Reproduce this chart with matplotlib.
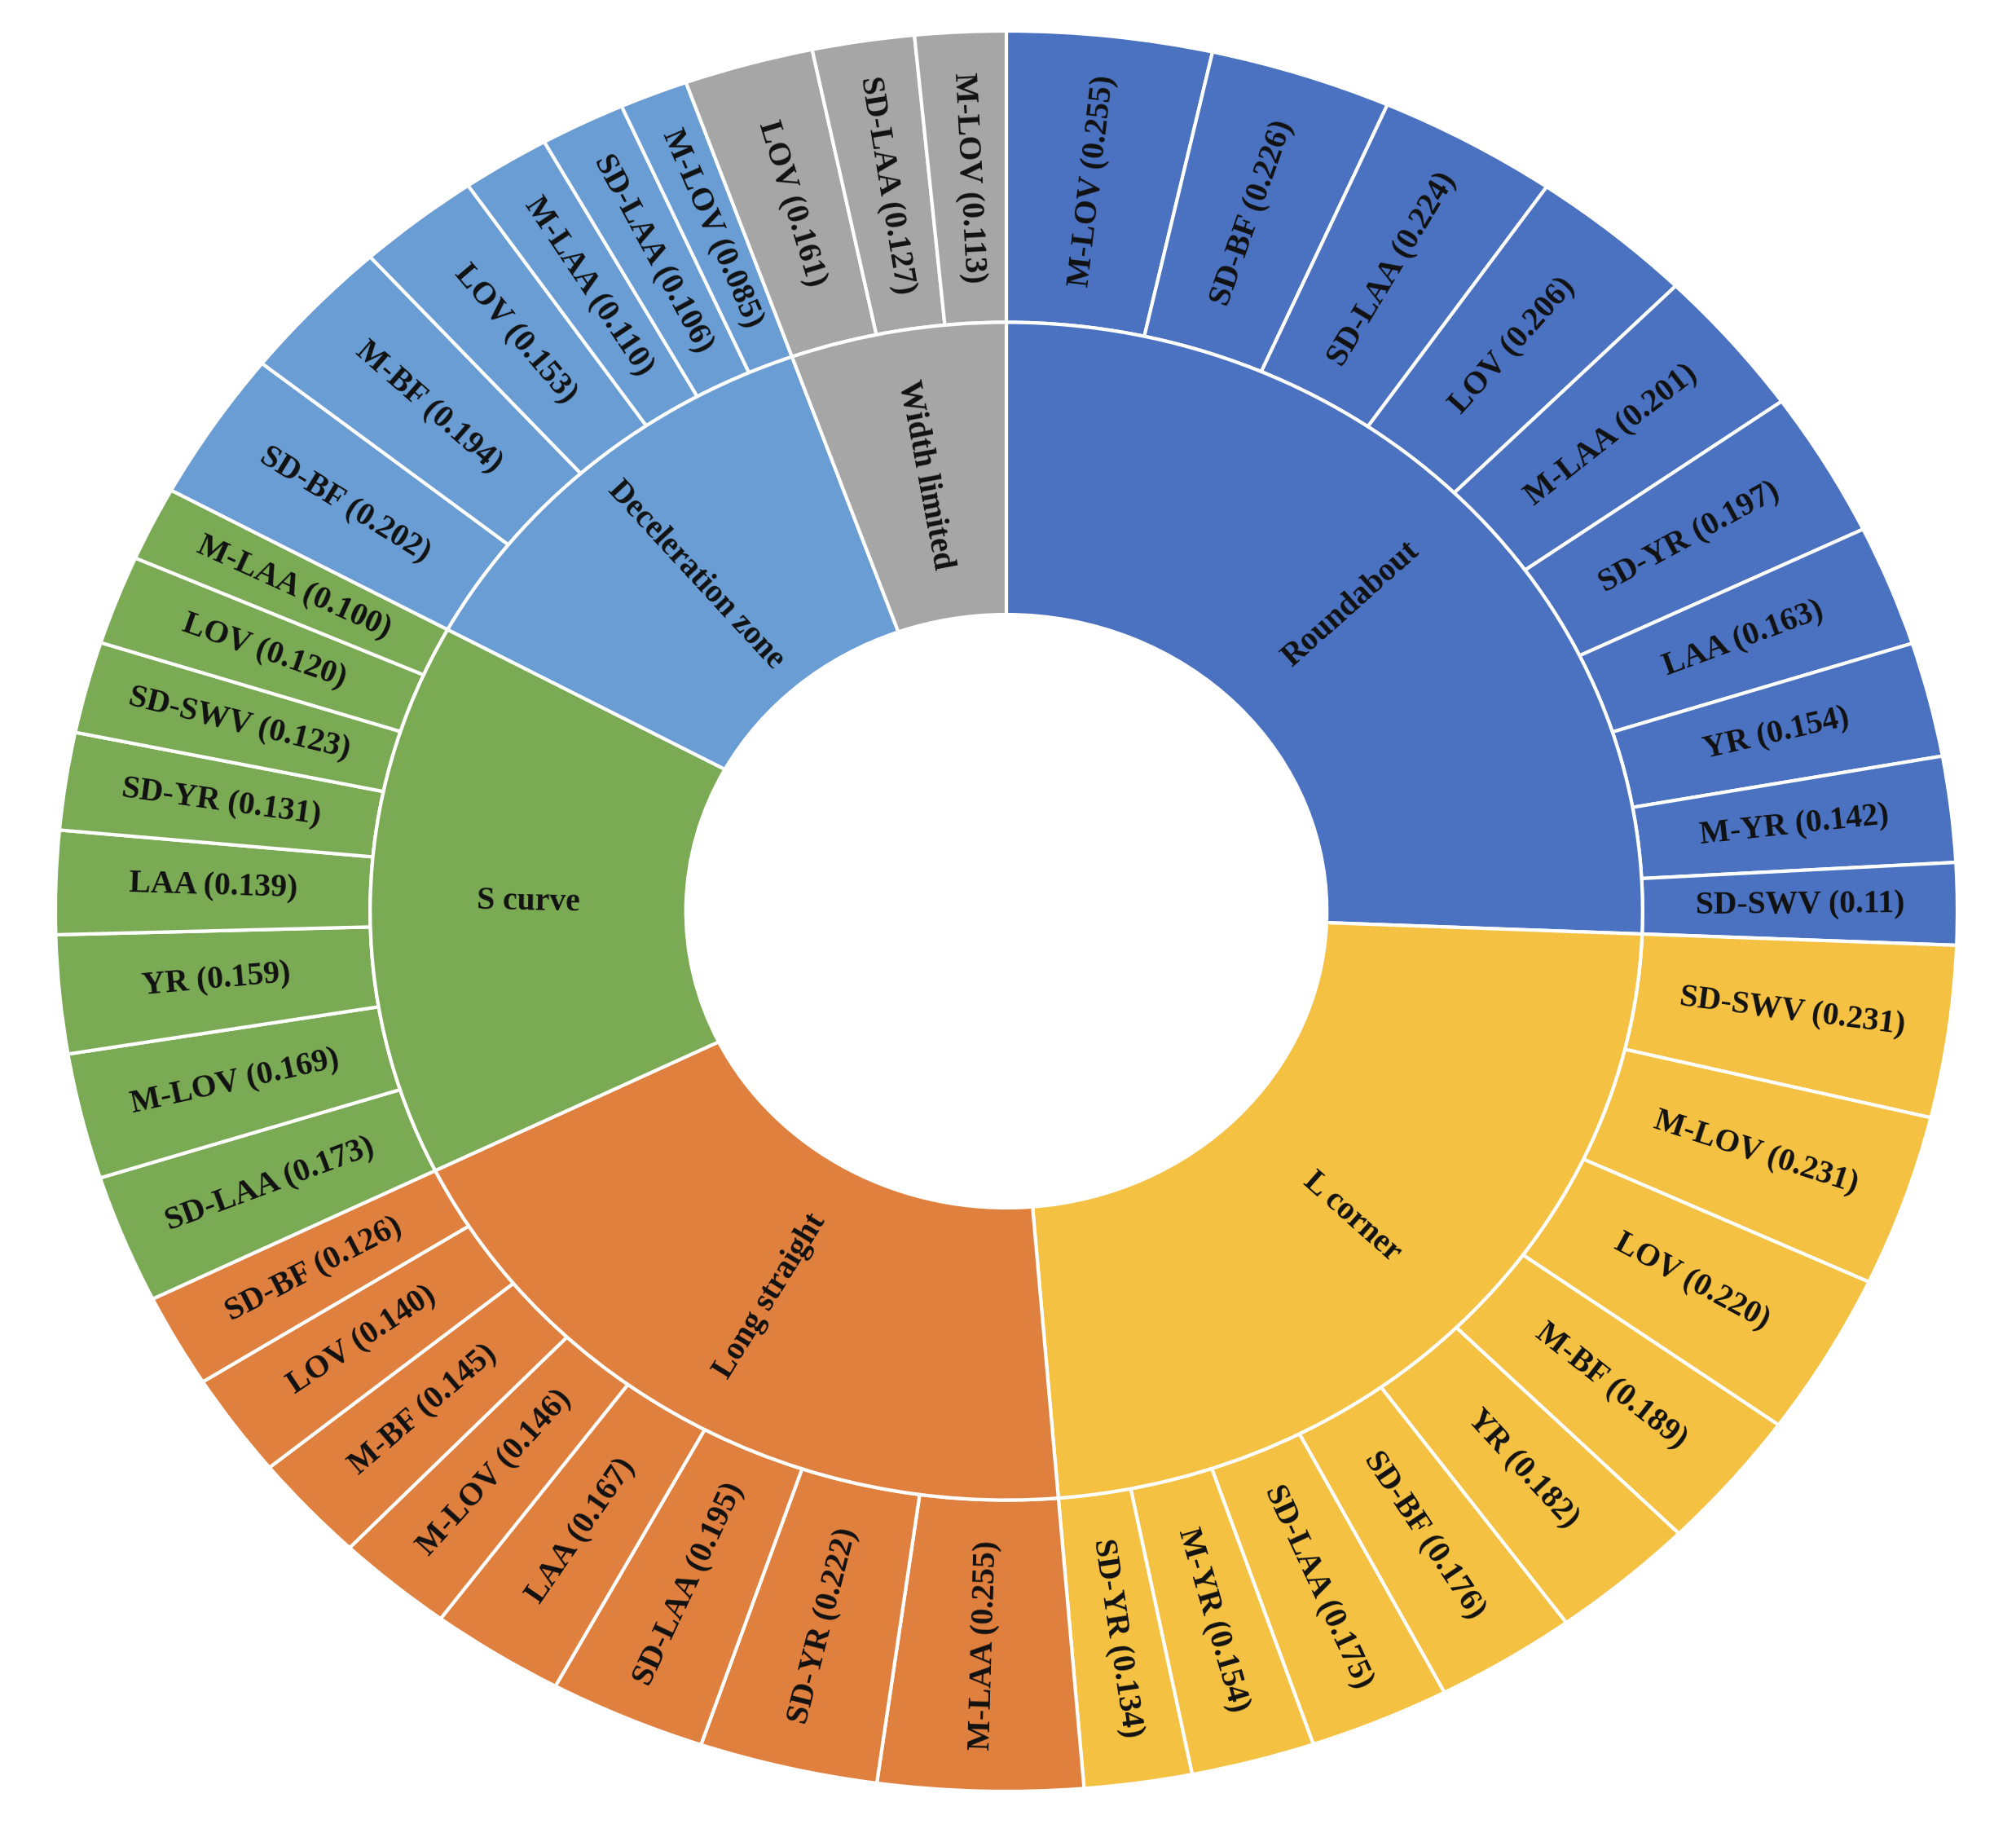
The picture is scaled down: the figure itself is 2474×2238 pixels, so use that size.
import matplotlib
matplotlib.use('Agg')
import numpy as np
import matplotlib.pyplot as plt

plt.rcParams['font.family'] = ['Liberation Serif', 'DejaVu Serif']

# inner ring: scenes (clockwise from 12 o'clock)
scenes = ['Roundabout', 'L corner', 'Long straight', 'S curve',
          'Deceleration zone', 'Width limited']
scene_colors = ['#4A72C1', '#F4C142', '#E0803F', '#7BAA54', '#6A9DD4', '#A6A6A6']

# outer ring: indicators per scene, values as printed on the chart
roundabout_names = ['M-LOV', 'SD-BF', 'SD-LAA', 'LOV', 'M-LAA', 'SD-YR', 'LAA', 'YR', 'M-YR', 'SD-SWV']
roundabout_vals = ['0.255', '0.226', '0.224', '0.206', '0.201', '0.197', '0.163', '0.154', '0.142', '0.11']

lcorner_names = ['SD-SWV', 'M-LOV', 'LOV', 'M-BF', 'YR', 'SD-BF', 'SD-LAA', 'M-YR', 'SD-YR']
lcorner_vals = ['0.231', '0.231', '0.220', '0.189', '0.182', '0.176', '0.175', '0.154', '0.134']

straight_names = ['M-LAA', 'SD-YR', 'SD-LAA', 'LAA', 'M-LOV', 'M-BF', 'LOV', 'SD-BF']
straight_vals = ['0.255', '0.222', '0.195', '0.167', '0.146', '0.145', '0.140', '0.126']

scurve_names = ['SD-LAA', 'M-LOV', 'YR', 'LAA', 'SD-YR', 'SD-SWV', 'LOV', 'M-LAA']
scurve_vals = ['0.173', '0.169', '0.159', '0.139', '0.131', '0.123', '0.120', '0.100']

decel_names = ['SD-BF', 'M-BF', 'LOV', 'M-LAA', 'SD-LAA', 'M-LOV']
decel_vals = ['0.202', '0.194', '0.153', '0.110', '0.106', '0.085']

width_names = ['LOV', 'SD-LAA', 'M-LOV']
width_vals = ['0.161', '0.127', '0.113']

groups = [(roundabout_names, roundabout_vals), (lcorner_names, lcorner_vals),
          (straight_names, straight_vals), (scurve_names, scurve_vals),
          (decel_names, decel_vals), (width_names, width_vals)]

outer_vals, outer_labels, outer_colors, inner_vals = [], [], [], []
for (names, vals), c in zip(groups, scene_colors):
    nums = [float(v) for v in vals]
    outer_vals += nums
    outer_labels += [f'{n} ({v})' for n, v in zip(names, vals)]
    outer_colors += [c] * len(nums)
    inner_vals.append(sum(nums))

R_OUT, R_MID, R_IN = 1.0, 0.669, 0.337
SX = 1167 / 1080  # picture is stretched horizontally

fig = plt.figure(figsize=(24.74, 22.38), dpi=100)
ax = fig.add_axes([0, 0, 1, 1])

wp = dict(edgecolor='white', linewidth=3)
ax.pie(outer_vals, radius=R_OUT, colors=outer_colors, startangle=90, counterclock=False,
       wedgeprops=dict(width=R_OUT - R_MID, **wp))
ax.pie(inner_vals, radius=R_MID, colors=scene_colors, startangle=90, counterclock=False,
       wedgeprops=dict(width=R_MID - R_IN, **wp))
ax.set_aspect('auto')
ax.set_xlim(-1235 / 1167, (2474 - 1235) / 1167)
ax.set_ylim(-(2238 - 1118) / 1080, 1118 / 1080)
ax.axis('off')


def put_labels(vals, labels, r):
    tot = sum(vals)
    cum = 0.0
    for v, lab in zip(vals, labels):
        theta = np.deg2rad(90 - 360 * (cum + v / 2) / tot)
        cum += v
        phi = np.degrees(np.arctan2(np.sin(theta), SX * np.cos(theta)))
        if np.cos(theta) < 0:
            phi -= 180
        ax.text(r * np.cos(theta), r * np.sin(theta), lab, rotation=phi,
                rotation_mode='anchor', ha='center', va='center',
                fontsize=28.5, fontweight='bold', color='#111111')


put_labels(outer_vals, outer_labels, (R_OUT + R_MID) / 2)
put_labels(inner_vals, scenes, (R_MID + R_IN) / 2)

fig.savefig('out.png', dpi=100)
